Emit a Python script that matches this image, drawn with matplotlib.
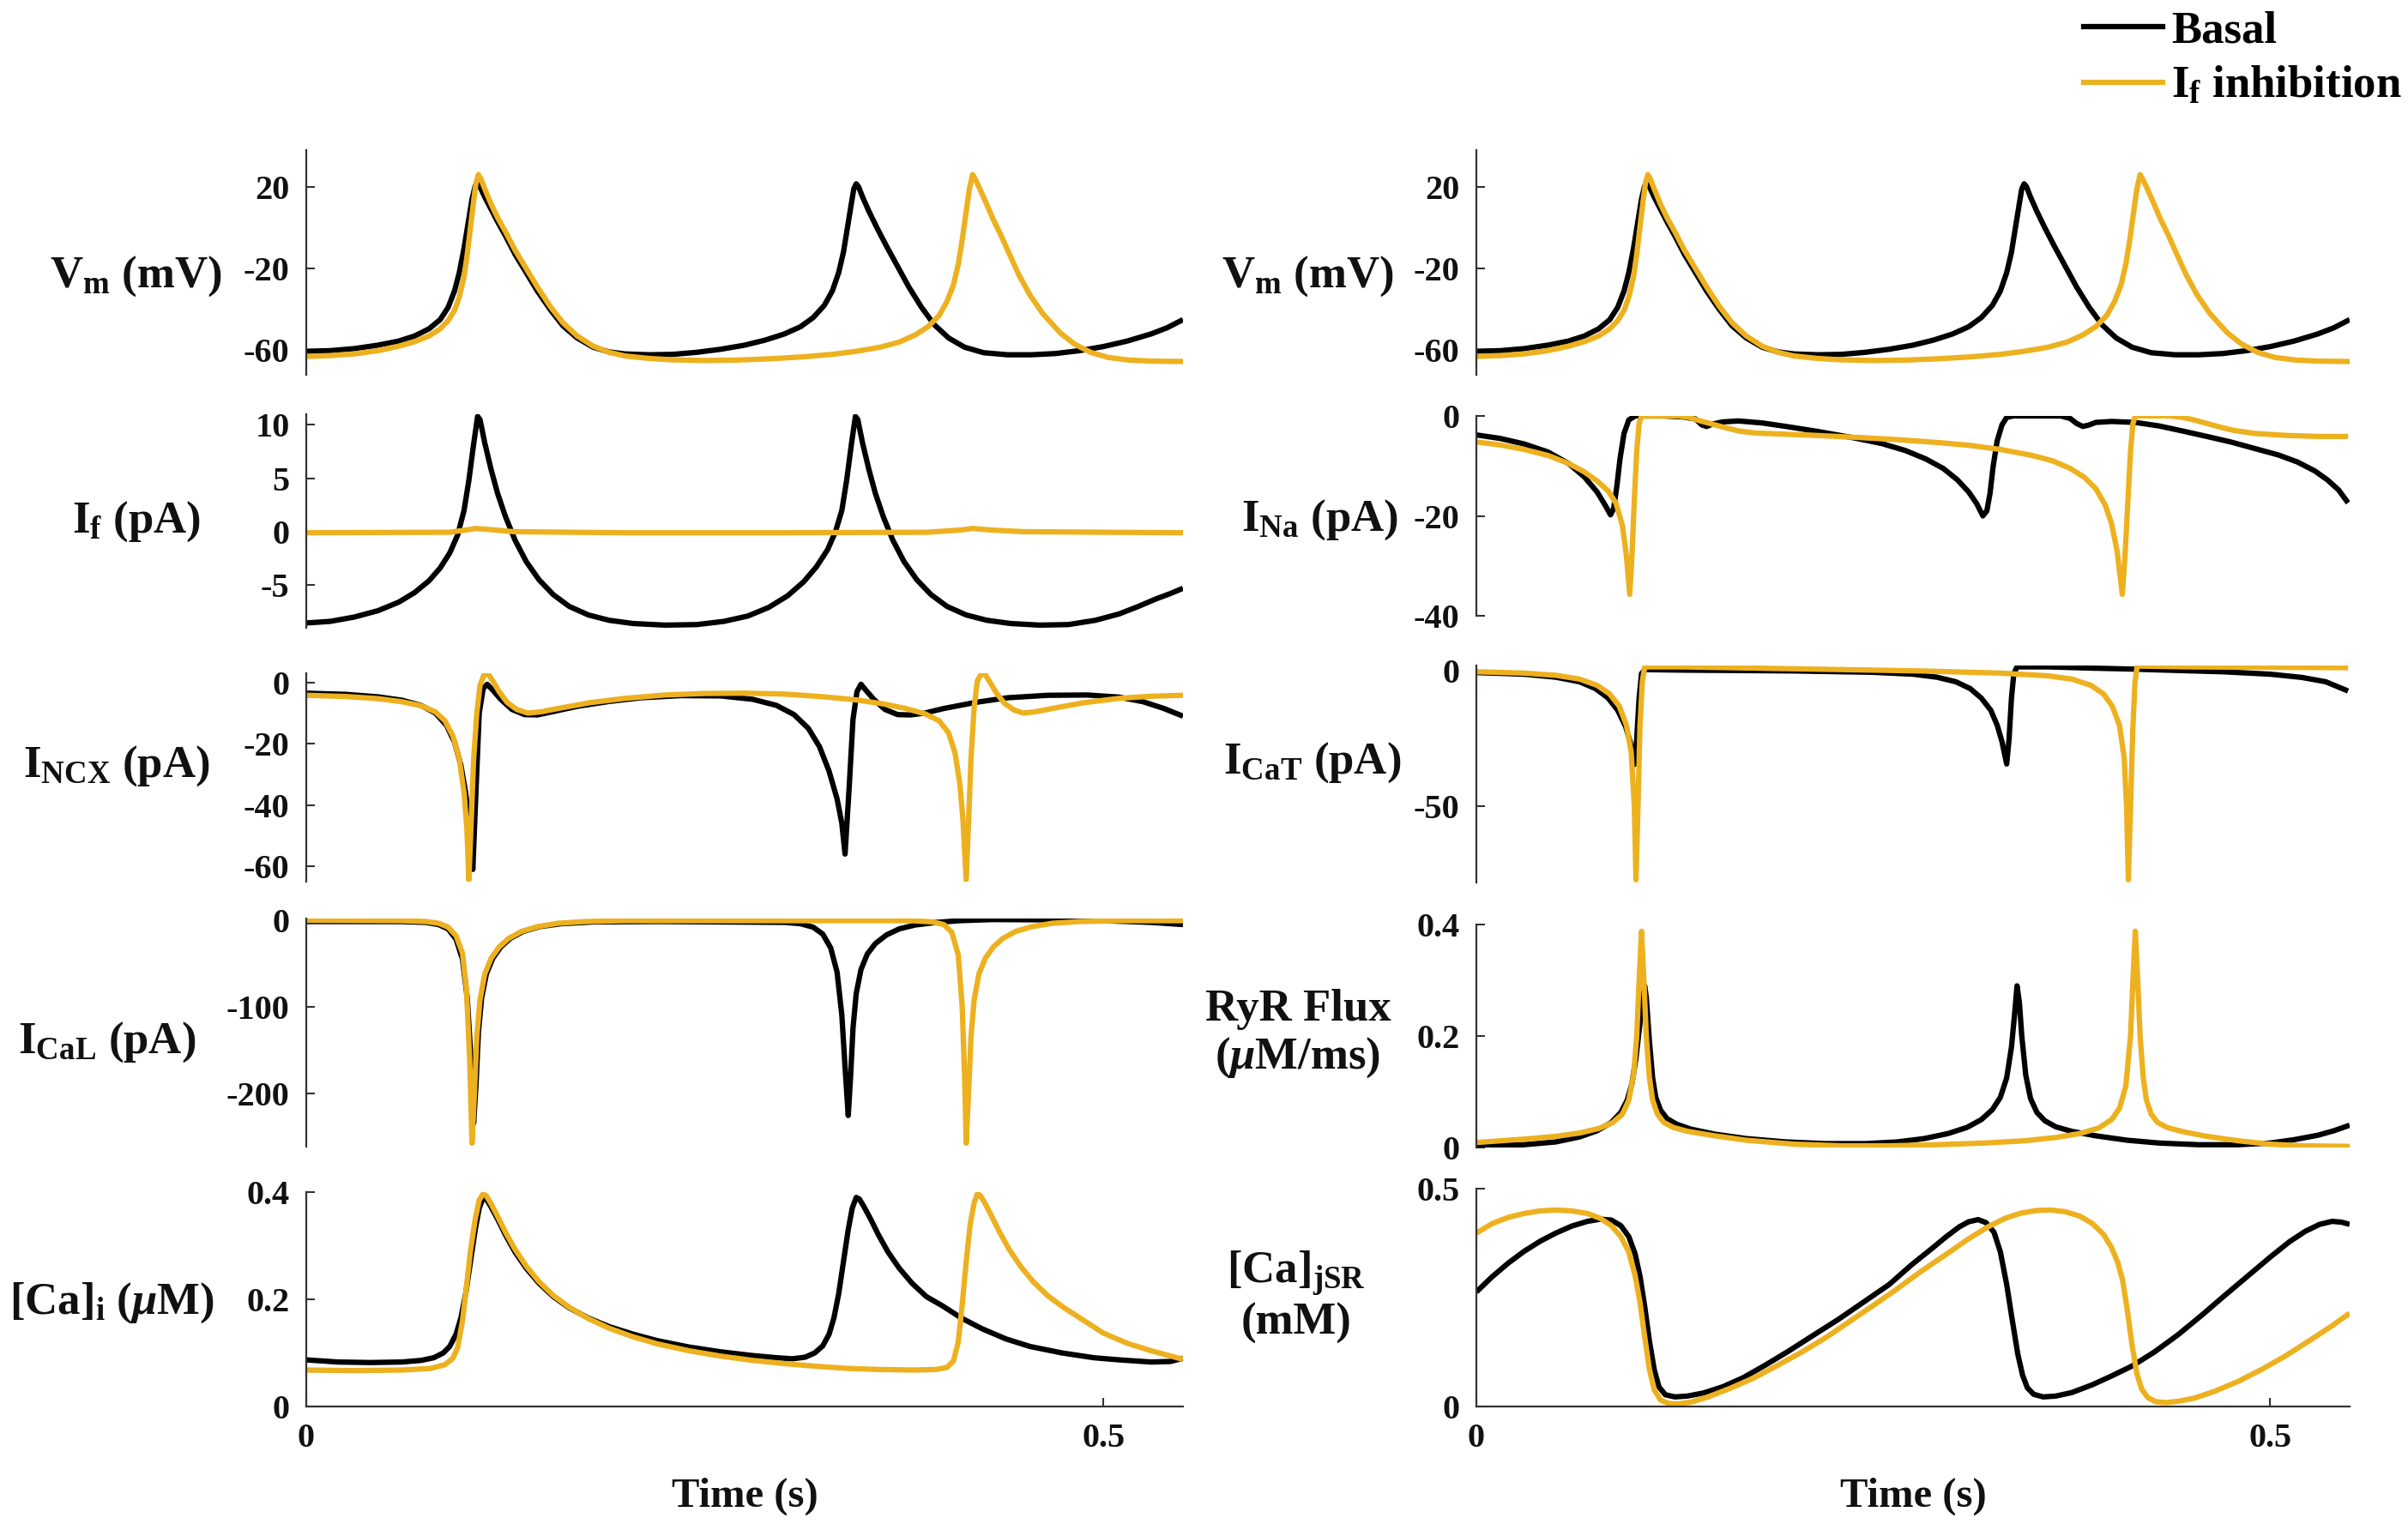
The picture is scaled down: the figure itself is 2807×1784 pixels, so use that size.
import numpy as np
import matplotlib
matplotlib.use("Agg")
import matplotlib.pyplot as plt
from matplotlib.lines import Line2D

plt.rcParams['font.family'] = 'Liberation Serif'
plt.rcParams['font.weight'] = 'bold'
plt.rcParams['mathtext.fontset'] = 'custom'
plt.rcParams['mathtext.rm'] = 'Liberation Serif:bold'
plt.rcParams['mathtext.bf'] = 'Liberation Serif:bold'
plt.rcParams['mathtext.it'] = 'Liberation Serif:italic'
plt.rcParams['axes.unicode_minus'] = False

# ---------------- data (time in s) ----------------
vm_basal = np.array([
    (0, -60.5), (0.015, -60.2), (0.03, -59.2), (0.045, -57.5), (0.058, -55.5), (0.068, -53),
    (0.077, -49.5), (0.084, -45), (0.089, -39), (0.093, -31), (0.096, -22), (0.099, -10),
    (0.1015, 2), (0.104, 14), (0.106, 20.5), (0.1075, 22), (0.109, 20), (0.112, 15), (0.116, 9),
    (0.12, 3), (0.125, -4), (0.131, -13), (0.138, -22), (0.145, -31), (0.153, -40), (0.161, -48),
    (0.17, -54), (0.18, -58.5), (0.19, -60.8), (0.2, -61.8), (0.215, -62.2), (0.23, -62),
    (0.245, -61), (0.26, -59.5), (0.275, -57.5), (0.288, -55), (0.3, -52), (0.31, -48.5),
    (0.318, -44), (0.325, -38), (0.33, -31), (0.334, -22), (0.337, -12), (0.3395, 0),
    (0.342, 12), (0.3435, 19), (0.345, 21.5), (0.3465, 20), (0.349, 15), (0.353, 8), (0.358, 0),
    (0.364, -9), (0.371, -19), (0.378, -29), (0.386, -39), (0.394, -47.5), (0.403, -54),
    (0.413, -58.5), (0.425, -61.2), (0.44, -62.2), (0.455, -62.2), (0.47, -61.6), (0.485, -60.2),
    (0.5, -58.2), (0.515, -55.5), (0.53, -52), (0.54, -49), (0.55, -45)])
vm_inhib = np.array([
    (0, -63), (0.015, -62.6), (0.03, -61.8), (0.045, -60.2), (0.058, -58), (0.068, -55.8),
    (0.077, -53), (0.084, -49.5), (0.089, -45.5), (0.093, -40.5), (0.096, -34), (0.099, -24),
    (0.101, -13), (0.103, 0), (0.105, 13), (0.1065, 22), (0.108, 26), (0.1095, 24), (0.112, 19),
    (0.116, 11.5), (0.12, 5), (0.125, -2), (0.131, -11), (0.138, -20), (0.145, -29),
    (0.153, -38.5), (0.161, -46.5), (0.17, -53), (0.18, -58), (0.19, -61), (0.2, -62.8),
    (0.215, -64), (0.23, -64.7), (0.25, -65), (0.27, -64.8), (0.29, -64.2), (0.31, -63.3),
    (0.33, -62), (0.345, -60.5), (0.36, -58.5), (0.372, -56), (0.382, -52.5), (0.39, -48.5),
    (0.397, -43), (0.402, -36), (0.406, -28), (0.409, -18), (0.4115, -6), (0.414, 8),
    (0.416, 19), (0.418, 26), (0.4195, 24), (0.422, 20), (0.426, 13), (0.431, 4), (0.436, -4),
    (0.44, -11), (0.447, -23), (0.454, -33), (0.462, -42), (0.473, -51.5), (0.482, -57),
    (0.492, -61), (0.503, -63.5), (0.516, -64.8), (0.53, -65.3), (0.55, -65.5)])

if_basal = np.array([
    (0, -8.55), (0.015, -8.4), (0.03, -8.0), (0.045, -7.4), (0.058, -6.6), (0.068, -5.7),
    (0.077, -4.6), (0.084, -3.4), (0.09, -2), (0.095, -0.3), (0.099, 2), (0.102, 4.8),
    (0.105, 8.2), (0.1075, 10.8), (0.109, 10.5), (0.112, 8.3), (0.116, 5.8), (0.12, 3.6),
    (0.125, 1.4), (0.131, -0.8), (0.138, -2.8), (0.146, -4.5), (0.155, -5.9), (0.165, -7),
    (0.177, -7.8), (0.19, -8.3), (0.205, -8.6), (0.225, -8.75), (0.245, -8.7), (0.262, -8.4),
    (0.277, -7.9), (0.29, -7.1), (0.302, -6.0), (0.312, -4.7), (0.32, -3.3), (0.327, -1.7),
    (0.332, 0), (0.336, 2), (0.339, 4.8), (0.342, 8.2), (0.3445, 10.8), (0.346, 10.5),
    (0.349, 8.3), (0.353, 5.8), (0.357, 3.6), (0.362, 1.4), (0.368, -0.8), (0.375, -2.8),
    (0.383, -4.5), (0.392, -5.9), (0.402, -7), (0.414, -7.8), (0.427, -8.3), (0.442, -8.6),
    (0.46, -8.75), (0.478, -8.7), (0.495, -8.3), (0.51, -7.7), (0.522, -7.0), (0.533, -6.3),
    (0.542, -5.8), (0.55, -5.3)])
if_inhib = np.array([
    (0, -0.1), (0.09, -0.05), (0.1, 0.15), (0.106, 0.3), (0.115, 0.2), (0.13, 0.0),
    (0.2, -0.1), (0.3, -0.1), (0.39, -0.05), (0.41, 0.15), (0.418, 0.3), (0.43, 0.15),
    (0.45, 0.0), (0.55, -0.1)])

incx_basal = np.array([
    (0, -3.5), (0.025, -3.9), (0.045, -4.7), (0.06, -5.8), (0.072, -7.5), (0.081, -10),
    (0.088, -14), (0.093, -19.5), (0.097, -27), (0.1, -36), (0.1025, -48), (0.1045, -61),
    (0.1065, -35), (0.1085, -10), (0.111, -2), (0.1135, -0.6), (0.117, -2.5), (0.122, -5.5),
    (0.129, -8.8), (0.137, -10.5), (0.145, -10.6), (0.155, -9.5), (0.17, -7.8), (0.19, -6.2),
    (0.21, -5), (0.235, -4.3), (0.26, -4.4), (0.28, -5.5), (0.295, -7.5), (0.306, -10.5),
    (0.315, -15), (0.322, -21), (0.328, -29), (0.333, -38), (0.336, -46), (0.338, -56),
    (0.3405, -35), (0.343, -12), (0.3455, -3), (0.348, -0.6), (0.351, -2.5), (0.356, -5.5),
    (0.363, -8.8), (0.371, -10.5), (0.379, -10.6), (0.388, -10), (0.4, -8.5), (0.42, -6.5),
    (0.44, -5), (0.465, -4.2), (0.49, -4.1), (0.51, -4.8), (0.525, -6.3), (0.538, -8.5),
    (0.55, -11)])
incx_inhib = np.array([
    (0, -4.2), (0.025, -4.6), (0.045, -5.3), (0.06, -6.3), (0.072, -7.6), (0.081, -9.6),
    (0.087, -12.5), (0.092, -17.5), (0.096, -25), (0.099, -36), (0.1008, -48), (0.102, -64.5),
    (0.1035, -45), (0.105, -25), (0.107, -10), (0.109, -1), (0.1115, 2.5), (0.114, 2.8),
    (0.117, 0.5), (0.121, -3), (0.126, -6.5), (0.132, -8.8), (0.139, -10), (0.147, -9.6),
    (0.16, -8.3), (0.178, -6.6), (0.2, -5.2), (0.225, -4.1), (0.25, -3.6), (0.275, -3.5),
    (0.3, -3.8), (0.325, -4.7), (0.345, -5.7), (0.362, -7), (0.376, -8.5), (0.388, -10.2),
    (0.397, -12.5), (0.403, -16.5), (0.407, -23), (0.41, -33), (0.412, -45), (0.414, -64.5),
    (0.4155, -45), (0.417, -25), (0.419, -8), (0.421, 0.5), (0.4235, 2.8), (0.426, 2.5),
    (0.429, 0), (0.433, -3.5), (0.438, -6.8), (0.444, -9), (0.45, -10), (0.457, -9.6),
    (0.47, -8.3), (0.488, -6.6), (0.51, -5.2), (0.53, -4.5), (0.55, -4.2)])

ical_basal = np.array([
    (0, -1.5), (0.06, -1.6), (0.075, -2.5), (0.083, -5), (0.089, -10), (0.094, -22),
    (0.098, -45), (0.101, -90), (0.103, -150), (0.105, -235), (0.1065, -190), (0.108, -130),
    (0.11, -90), (0.113, -62), (0.117, -44), (0.122, -31), (0.128, -21), (0.136, -13),
    (0.146, -7.5), (0.16, -4), (0.18, -2), (0.22, -1.5), (0.3, -2.5), (0.31, -4), (0.318, -8),
    (0.324, -16), (0.329, -32), (0.333, -60), (0.336, -110), (0.338, -170), (0.34, -226),
    (0.3415, -180), (0.343, -125), (0.345, -85), (0.348, -57), (0.352, -39), (0.357, -27),
    (0.364, -17), (0.372, -10), (0.382, -5.5), (0.395, -2.5), (0.41, -0.5), (0.43, 0.8),
    (0.46, 0.5), (0.5, -0.5), (0.53, -2.5), (0.55, -5)])
ical_inhib = np.array([
    (0, 0), (0.06, -0.5), (0.075, -1.5), (0.083, -3.5), (0.089, -8), (0.094, -18), (0.098, -38),
    (0.1005, -80), (0.1025, -160), (0.104, -258), (0.1055, -200), (0.107, -135), (0.109, -92),
    (0.112, -62), (0.116, -44), (0.121, -31), (0.127, -21), (0.135, -13), (0.145, -7.5),
    (0.158, -3.5), (0.175, -1.5), (0.2, -0.5), (0.38, -0.5), (0.393, -2), (0.4, -5),
    (0.405, -14), (0.409, -40), (0.4115, -100), (0.413, -180), (0.414, -258), (0.4155, -200),
    (0.417, -135), (0.419, -92), (0.422, -62), (0.426, -44), (0.431, -31), (0.437, -21),
    (0.445, -13), (0.455, -7.5), (0.468, -3.5), (0.485, -1.5), (0.51, -0.5), (0.55, -0.5)])

cai_basal = np.array([
    (0, 0.087), (0.02, 0.083), (0.04, 0.082), (0.06, 0.083), (0.072, 0.086), (0.08, 0.091),
    (0.086, 0.1), (0.09, 0.112), (0.094, 0.135), (0.097, 0.165), (0.1, 0.21), (0.103, 0.27),
    (0.106, 0.33), (0.1085, 0.37), (0.111, 0.39), (0.113, 0.387), (0.116, 0.372), (0.12, 0.35),
    (0.125, 0.32), (0.131, 0.288), (0.138, 0.258), (0.146, 0.23), (0.155, 0.205),
    (0.165, 0.184), (0.177, 0.165), (0.19, 0.149), (0.205, 0.135), (0.22, 0.123),
    (0.24, 0.111), (0.26, 0.102), (0.28, 0.095), (0.295, 0.091), (0.305, 0.089), (0.313, 0.092),
    (0.319, 0.1), (0.324, 0.113), (0.328, 0.135), (0.331, 0.165), (0.334, 0.21), (0.337, 0.27),
    (0.34, 0.33), (0.3425, 0.37), (0.345, 0.39), (0.347, 0.387), (0.35, 0.372), (0.354, 0.35),
    (0.359, 0.32), (0.365, 0.288), (0.372, 0.258), (0.38, 0.23), (0.389, 0.205),
    (0.399, 0.188), (0.411, 0.165), (0.424, 0.145), (0.439, 0.126), (0.454, 0.112),
    (0.474, 0.1), (0.494, 0.091), (0.51, 0.087), (0.53, 0.083), (0.542, 0.084), (0.55, 0.09)])
cai_inhib = np.array([
    (0, 0.068), (0.03, 0.067), (0.06, 0.068), (0.078, 0.071), (0.087, 0.078), (0.092, 0.09),
    (0.095, 0.11), (0.098, 0.16), (0.1, 0.21), (0.103, 0.29), (0.106, 0.35), (0.1085, 0.385),
    (0.111, 0.397), (0.113, 0.393), (0.116, 0.378), (0.12, 0.355), (0.125, 0.325),
    (0.131, 0.293), (0.138, 0.262), (0.146, 0.233), (0.155, 0.207), (0.165, 0.185),
    (0.177, 0.164), (0.19, 0.146), (0.205, 0.13), (0.22, 0.117), (0.24, 0.104), (0.26, 0.094),
    (0.28, 0.086), (0.3, 0.08), (0.32, 0.075), (0.34, 0.071), (0.36, 0.069), (0.38, 0.068),
    (0.395, 0.069), (0.402, 0.073), (0.406, 0.085), (0.409, 0.12), (0.4115, 0.19),
    (0.414, 0.27), (0.4165, 0.34), (0.419, 0.38), (0.421, 0.397), (0.423, 0.393),
    (0.426, 0.378), (0.43, 0.355), (0.435, 0.325), (0.441, 0.293), (0.448, 0.262),
    (0.456, 0.233), (0.465, 0.207), (0.475, 0.185), (0.487, 0.162), (0.5, 0.137),
    (0.515, 0.118), (0.53, 0.104), (0.54, 0.096), (0.55, 0.088)])

ina_basal = np.array([
    (0, -3.8), (0.015, -4.5), (0.03, -5.6), (0.045, -7.2), (0.058, -9.5), (0.068, -12.2),
    (0.076, -15.2), (0.081, -17.8), (0.0845, -19.8), (0.0865, -18.5), (0.0885, -14),
    (0.0905, -8.5), (0.093, -3.5), (0.096, -0.8), (0.1, 0), (0.118, 0), (0.13, -0.2),
    (0.138, -0.6), (0.142, -1.8), (0.145, -2.1), (0.149, -1.6), (0.155, -1.2), (0.165, -1.0),
    (0.18, -1.4), (0.195, -2.1), (0.215, -3.1), (0.238, -4.4), (0.255, -5.5), (0.27, -6.9),
    (0.283, -8.6), (0.294, -10.5), (0.303, -12.8), (0.31, -15.2), (0.315, -17.5), (0.319, -20),
    (0.3215, -19), (0.3235, -15.5), (0.3255, -10), (0.328, -5), (0.331, -1.8), (0.334, -0.3),
    (0.338, 0), (0.368, 0), (0.374, -0.5), (0.378, -1.5), (0.382, -2.1), (0.386, -1.8),
    (0.39, -1.3), (0.4, -1.1), (0.415, -1.3), (0.43, -2.0), (0.446, -3.1), (0.46, -4.1),
    (0.475, -5.2), (0.49, -6.5), (0.505, -7.8), (0.517, -9.2), (0.528, -11), (0.536, -12.8),
    (0.543, -14.8), (0.549, -17.4)])
ina_inhib = np.array([
    (0, -5.2), (0.015, -5.8), (0.03, -6.7), (0.045, -7.9), (0.058, -9.5), (0.068, -11.2),
    (0.076, -13), (0.083, -15), (0.088, -17.5), (0.092, -22), (0.0945, -28), (0.0966, -35.7),
    (0.098, -28), (0.0995, -16.6), (0.101, -7), (0.1025, -1.5), (0.104, 0), (0.127, 0),
    (0.134, -0.3), (0.14, -0.9), (0.147, -1.5), (0.155, -2.2), (0.165, -3.0), (0.175, -3.4),
    (0.19, -3.6), (0.214, -3.9), (0.24, -4.3), (0.263, -4.7), (0.29, -5.3), (0.311, -5.9),
    (0.33, -6.7), (0.35, -7.9), (0.363, -9.0), (0.374, -10.5), (0.383, -12.3), (0.39, -14.5),
    (0.396, -17.8), (0.4, -21.5), (0.4035, -27), (0.4068, -35.7), (0.4085, -28),
    (0.4104, -16.6), (0.412, -7), (0.4135, -1.5), (0.415, 0), (0.437, 0), (0.445, -0.3),
    (0.452, -0.8), (0.46, -1.5), (0.468, -2.2), (0.477, -2.9), (0.49, -3.5), (0.51, -3.9),
    (0.53, -4.1), (0.549, -4.1)])

icat_basal = np.array([
    (0, -0.6), (0.03, -1.2), (0.05, -2.3), (0.065, -4), (0.075, -6.5), (0.083, -10),
    (0.089, -14.5), (0.094, -20.5), (0.097, -26.5), (0.0995, -34.5), (0.101, -25),
    (0.1025, -10), (0.104, -1), (0.106, 0.5), (0.13, 0.3), (0.2, 0), (0.25, -0.5),
    (0.275, -1.2), (0.29, -2.3), (0.302, -4), (0.311, -6.5), (0.318, -10), (0.324, -14.5),
    (0.328, -20), (0.331, -26), (0.334, -34.3), (0.3355, -25), (0.337, -10), (0.3385, -1),
    (0.3405, 1.5), (0.36, 1.5), (0.39, 1), (0.412, 0.7), (0.44, 0.2), (0.47, -0.3),
    (0.5, -1.2), (0.52, -2.4), (0.535, -4), (0.549, -7.4)])
icat_inhib = np.array([
    (0, -0.3), (0.03, -0.8), (0.05, -1.6), (0.065, -3), (0.076, -5.3), (0.084, -8.5),
    (0.09, -13), (0.0945, -20), (0.0975, -30), (0.0995, -50), (0.1005, -77), (0.1018, -50),
    (0.103, -20.8), (0.1045, -4), (0.106, 1.5), (0.13, 1.5), (0.2, 0.8), (0.28, 0),
    (0.33, -0.8), (0.36, -1.8), (0.375, -3), (0.387, -5.3), (0.395, -8.5), (0.4005, -13),
    (0.405, -20), (0.408, -32), (0.4095, -50), (0.4106, -77), (0.412, -50), (0.4134, -22),
    (0.4148, -4), (0.4162, 1.8), (0.45, 1.5), (0.549, 1.2)])

ryr_basal = np.array([
    (0, 0.003), (0.03, 0.005), (0.05, 0.01), (0.065, 0.019), (0.076, 0.03), (0.085, 0.045),
    (0.091, 0.063), (0.095, 0.085), (0.098, 0.115), (0.1005, 0.16), (0.103, 0.222),
    (0.105, 0.27), (0.106, 0.29), (0.107, 0.27), (0.109, 0.19), (0.111, 0.125), (0.113, 0.09),
    (0.116, 0.067), (0.12, 0.052), (0.126, 0.042), (0.135, 0.033), (0.15, 0.024),
    (0.17, 0.016), (0.195, 0.01), (0.22, 0.007), (0.245, 0.007), (0.265, 0.01), (0.282, 0.016),
    (0.297, 0.025), (0.309, 0.036), (0.318, 0.05), (0.325, 0.068), (0.33, 0.09), (0.334, 0.125),
    (0.337, 0.18), (0.339, 0.24), (0.3405, 0.29), (0.342, 0.26), (0.3435, 0.2), (0.346, 0.13),
    (0.349, 0.088), (0.353, 0.063), (0.358, 0.048), (0.365, 0.037), (0.375, 0.029),
    (0.39, 0.021), (0.41, 0.013), (0.43, 0.008), (0.455, 0.005), (0.48, 0.005), (0.5, 0.008),
    (0.515, 0.014), (0.53, 0.022), (0.54, 0.03), (0.55, 0.04)])
ryr_inhib = np.array([
    (0, 0.009), (0.03, 0.015), (0.05, 0.02), (0.065, 0.026), (0.077, 0.034), (0.086, 0.045),
    (0.092, 0.06), (0.096, 0.085), (0.099, 0.13), (0.101, 0.2), (0.1025, 0.3), (0.104, 0.388),
    (0.1055, 0.3), (0.107, 0.2), (0.109, 0.125), (0.111, 0.085), (0.114, 0.06), (0.118, 0.045),
    (0.124, 0.036), (0.133, 0.029), (0.15, 0.021), (0.17, 0.013), (0.2, 0.006), (0.23, 0.003),
    (0.26, 0.003), (0.29, 0.005), (0.32, 0.008), (0.345, 0.012), (0.365, 0.018), (0.38, 0.025),
    (0.392, 0.035), (0.4, 0.05), (0.405, 0.07), (0.409, 0.11), (0.412, 0.2), (0.4135, 0.3),
    (0.415, 0.388), (0.4165, 0.3), (0.418, 0.2), (0.42, 0.125), (0.422, 0.085), (0.425, 0.06),
    (0.429, 0.045), (0.435, 0.036), (0.444, 0.029), (0.46, 0.02), (0.48, 0.012), (0.5, 0.006),
    (0.52, 0.003), (0.55, 0.002)])

jsr_basal = np.array([
    (0, 0.263), (0.01, 0.298), (0.02, 0.329), (0.03, 0.356), (0.04, 0.379), (0.05, 0.398),
    (0.06, 0.414), (0.07, 0.425), (0.078, 0.43), (0.085, 0.428), (0.091, 0.415), (0.096, 0.39),
    (0.1, 0.35), (0.103, 0.3), (0.106, 0.23), (0.109, 0.15), (0.112, 0.085), (0.115, 0.045),
    (0.119, 0.027), (0.125, 0.022), (0.133, 0.024), (0.143, 0.031), (0.155, 0.045),
    (0.168, 0.066), (0.182, 0.095), (0.197, 0.128), (0.212, 0.163), (0.228, 0.2),
    (0.244, 0.24), (0.26, 0.28), (0.274, 0.325), (0.286, 0.36), (0.296, 0.39), (0.304, 0.412),
    (0.31, 0.424), (0.316, 0.429), (0.321, 0.422), (0.326, 0.4), (0.33, 0.355), (0.334, 0.28),
    (0.337, 0.21), (0.341, 0.12), (0.344, 0.072), (0.347, 0.043), (0.351, 0.028),
    (0.357, 0.022), (0.365, 0.024), (0.375, 0.032), (0.388, 0.05), (0.4, 0.07), (0.413, 0.093),
    (0.427, 0.125), (0.442, 0.165), (0.457, 0.21), (0.472, 0.257), (0.486, 0.3),
    (0.5, 0.343), (0.512, 0.378), (0.522, 0.402), (0.531, 0.418), (0.539, 0.425),
    (0.545, 0.423), (0.55, 0.418)])
jsr_inhib = np.array([
    (0, 0.398), (0.01, 0.42), (0.02, 0.434), (0.03, 0.443), (0.04, 0.449), (0.05, 0.451),
    (0.06, 0.449), (0.07, 0.443), (0.078, 0.432), (0.085, 0.415), (0.091, 0.39), (0.096, 0.355),
    (0.1, 0.3), (0.103, 0.24), (0.106, 0.16), (0.109, 0.085), (0.112, 0.038), (0.116, 0.015),
    (0.121, 0.007), (0.127, 0.006), (0.135, 0.01), (0.146, 0.022), (0.16, 0.042),
    (0.175, 0.066), (0.19, 0.095), (0.205, 0.125), (0.22, 0.158), (0.235, 0.195),
    (0.25, 0.232), (0.265, 0.27), (0.28, 0.31), (0.295, 0.347), (0.31, 0.385), (0.322, 0.412),
    (0.333, 0.432), (0.343, 0.444), (0.353, 0.45), (0.362, 0.451), (0.371, 0.447),
    (0.38, 0.437), (0.388, 0.42), (0.395, 0.395), (0.4, 0.365), (0.404, 0.33), (0.407, 0.29),
    (0.41, 0.22), (0.413, 0.14), (0.416, 0.075), (0.419, 0.04), (0.423, 0.02), (0.428, 0.011),
    (0.434, 0.009), (0.442, 0.012), (0.452, 0.019), (0.465, 0.035), (0.48, 0.058),
    (0.495, 0.086), (0.51, 0.117), (0.525, 0.152), (0.538, 0.183), (0.55, 0.214)])

series_labels = ['Basal', r'I$_{\rm f}$ inhibition']
x_ticks = [0, 0.5]
x_tick_labels = ['0', '0.5']

# ---------------- figure ----------------
W, H = 2807, 1784
fig = plt.figure(figsize=(W / 100, H / 100), dpi=100)

C_BASAL = '#000000'
C_INHIB = '#EDB120'
SPINE = '#333333'
TXT = '#111111'
LW = 4.5

def add_ax(left, top, right, bottom):
    return fig.add_axes([left / W, 1 - bottom / H, (right - left) / W, (bottom - top) / H])

LX0, LX1 = 357, 1379
RX0, RX1 = 1721, 2739

panels = [
    # (box, basal, inhib, ylim, yticks, yticklabels, ylabel, label_xy, bottom)
    ((LX0, 175, LX1, 437), vm_basal, vm_inhib, (-72, 38), [-60, -20, 20], ['-60', '-20', '20'],
     r'V$_{\rm m}$ (mV)', (158, 322), False),
    ((LX0, 483, LX1, 732), if_basal, if_inhib, (-9, 11), [-5, 0, 5, 10], ['-5', '0', '5', '10'],
     r'I$_{\rm f}$ (pA)', (159, 608), False),
    ((LX0, 785, LX1, 1028), incx_basal, incx_inhib, (-65, 3), [-60, -40, -20, 0],
     ['-60', '-40', '-20', '0'], r'I$_{\rm NCX}$ (pA)', (136, 893), False),
    ((LX0, 1071, LX1, 1337), ical_basal, ical_inhib, (-262, 2), [-200, -100, 0],
     ['-200', '-100', '0'], r'I$_{\rm CaL}$ (pA)', (125, 1215), False),
    ((LX0, 1390, LX1, 1640), cai_basal, cai_inhib, (0, 0.4), [0, 0.2, 0.4], ['0', '0.2', '0.4'],
     r'[Ca]$_{\rm i}$ ($\mu$M)', (130, 1519), True),
    ((RX0, 175, RX1, 437), vm_basal, vm_inhib, (-72, 38), [-60, -20, 20], ['-60', '-20', '20'],
     r'V$_{\rm m}$ (mV)', (1524, 322), False),
    ((RX0, 485, RX1, 718), ina_basal, ina_inhib, (-40, 0), [-40, -20, 0], ['-40', '-20', '0'],
     r'I$_{\rm Na}$ (pA)', (1538, 606), False),
    ((RX0, 776, RX1, 1029), icat_basal, icat_inhib, (-78, 2), [-50, 0], ['-50', '0'],
     r'I$_{\rm CaT}$ (pA)', (1530, 889), False),
    ((RX0, 1078, RX1, 1338), ryr_basal, ryr_inhib, (0, 0.4), [0, 0.2, 0.4], ['0', '0.2', '0.4'],
     'RyR Flux\n' + r'($\mu$M/ms)', (1513, 1206), False),
    ((RX0, 1386, RX1, 1640), jsr_basal, jsr_inhib, (0, 0.5), [0, 0.5], ['0', '0.5'],
     r'[Ca]$_{\rm jSR}$' + '\n(mM)', (1511, 1512), True),
]

for box, b, inh, ylim, yt, ytl, ylab, lxy, bottom in panels:
    ax = add_ax(*box)
    ax.plot(b[:, 0], b[:, 1], color=C_BASAL, lw=LW, solid_joinstyle='round',
            solid_capstyle='butt')
    ax.plot(inh[:, 0], inh[:, 1], color=C_INHIB, lw=LW, solid_joinstyle='round',
            solid_capstyle='butt')
    ax.set_xlim(0, 0.55)
    ax.set_ylim(*ylim)
    ax.set_yticks(yt)
    ax.set_yticklabels(ytl)
    for s in ('top', 'right'):
        ax.spines[s].set_visible(False)
    ax.spines['left'].set_color(SPINE)
    ax.spines['left'].set_linewidth(1.6)
    ax.tick_params(axis='y', direction='in', length=7, width=1.5, colors=SPINE,
                   labelcolor=TXT, labelsize=29, pad=14)
    if bottom:
        ax.spines['bottom'].set_color(SPINE)
        ax.spines['bottom'].set_linewidth(1.6)
        ax.set_xticks(x_ticks)
        ax.set_xticklabels(x_tick_labels)
        ax.tick_params(axis='x', direction='in', length=7, width=1.5, colors=SPINE,
                       labelcolor=TXT, labelsize=29, pad=14)
        ax.set_xlabel('Time (s)', fontsize=35, fontweight='bold', color=TXT)
        hpx = box[3] - box[1]
        ax.xaxis.set_label_coords(0.5, -(1745 - box[3]) / hpx)
        ax.xaxis.label.set_va('center')
    else:
        ax.spines['bottom'].set_visible(False)
        ax.set_xticks([])
    ax.patch.set_alpha(0)
    fig.text(lxy[0] / W, 1 - lxy[1] / H, ylab, fontsize=38, fontweight='bold',
             ha='center', va='center', multialignment='center', color=TXT,
             linespacing=1.15)

handles = [Line2D([], [], color=C_BASAL, lw=LW), Line2D([], [], color=C_INHIB, lw=LW)]
fig.legend(handles, series_labels, loc='upper left', bbox_to_anchor=(2429 / W, 1 - 12 / H),
           frameon=False, fontsize=38, handlelength=1.75, handletextpad=0.18,
           labelspacing=0.32, borderpad=0, borderaxespad=0)

fig.savefig('out.png', dpi=100, facecolor='white')
